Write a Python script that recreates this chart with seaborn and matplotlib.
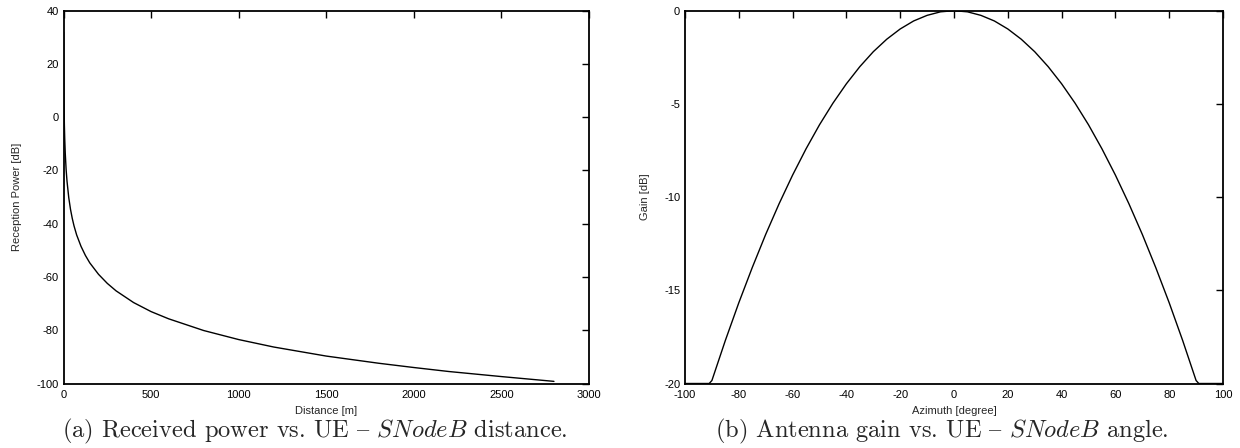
import numpy as np
import pandas as pd
import seaborn as sns
import matplotlib.pyplot as plt

# (a) received power vs distance
distance_m = [0.5, 1, 2, 3, 5, 7, 10, 15, 20, 30, 40, 50, 60, 75, 100, 125, 150,
              200, 250, 300, 400, 500, 600, 800, 1000, 1200, 1500, 1800, 2000,
              2200, 2500, 2800]
power_db = [32.0, 21.5, 11.0, 4.8, -3.0, -8.1, -13.5, -19.7, -24.0, -30.2,
            -34.6, -38.0, -40.8, -44.2, -48.5, -51.9, -54.7, -59.0, -62.4,
            -65.2, -69.6, -73.0, -75.7, -80.1, -83.5, -86.3, -89.7, -92.4,
            -94.0, -95.5, -97.4, -99.2]

# (b) antenna gain vs azimuth
azimuth_deg = [-100, -95, -91, -90, -85, -80, -75, -70, -65, -60, -55, -50, -45,
               -40, -35, -30, -25, -20, -15, -10, -5, 0, 5, 10, 15, 20, 25, 30,
               35, 40, 45, 50, 55, 60, 65, 70, 75, 80, 85, 90, 91, 95, 100]
gain_db = [-20.0, -20.0, -20.0, -19.84, -17.69, -15.67, -13.78, -12.0, -10.35,
           -8.82, -7.41, -6.12, -4.96, -3.92, -3.0, -2.2, -1.53, -0.98, -0.55,
           -0.25, -0.06, 0.0, -0.06, -0.25, -0.55, -0.98, -1.53, -2.2, -3.0,
           -3.92, -4.96, -6.12, -7.41, -8.82, -10.35, -12.0, -13.78, -15.67,
           -17.69, -19.84, -20.0, -20.0, -20.0]

# "{" is the en dash slot in the cmr10 font
captions = [r"(a) Received power vs. UE { $SNodeB$ distance.",
            r"(b) Antenna gain vs. UE { $SNodeB$ angle."]

sns.set_style("white")
plt.rcParams['font.family'] = ['Liberation Sans', 'DejaVu Sans']
plt.rcParams['mathtext.fontset'] = 'cm'
plt.rcParams['axes.unicode_minus'] = False

W, H = 1240, 448
fig = plt.figure(figsize=(W / 100, H / 100), dpi=100)

top, bottom = 10.7, 383.5
ax1 = fig.add_axes([63.5 / W, 1 - bottom / H, (589 - 63.5) / W, (bottom - top) / H])
ax2 = fig.add_axes([685 / W, 1 - bottom / H, (1223 - 685) / W, (bottom - top) / H])

df1 = pd.DataFrame({'Distance': distance_m, 'Power': power_db})
df2 = pd.DataFrame({'Azimuth': azimuth_deg, 'Gain': gain_db})

sns.lineplot(data=df1, x='Distance', y='Power', ax=ax1, color='black', lw=1.0)
sns.lineplot(data=df2, x='Azimuth', y='Gain', ax=ax2, color='black', lw=1.0)

ax1.set_xlim(0, 3000)
ax1.set_ylim(-100, 40)
ax1.set_xticks(np.arange(0, 3001, 500))
ax1.set_yticks(np.arange(-100, 41, 20))
ax1.set_xlabel('Distance [m]', fontsize=8, labelpad=4)
ax1.set_ylabel('Reception Power [dB]', fontsize=8, labelpad=10)

ax2.set_xlim(-100, 100)
ax2.set_ylim(-20, 0)
ax2.set_xticks(np.arange(-100, 101, 20))
ax2.set_yticks(np.arange(-20, 1, 5))
ax2.set_xlabel('Azimuth [degree]', fontsize=8, labelpad=4)
ax2.set_ylabel('Gain [dB]', fontsize=8, labelpad=10)

for ax in (ax1, ax2):
    for s in ax.spines.values():
        s.set_visible(True)
        s.set_linewidth(1.3)
        s.set_color('black')
    ax.tick_params(direction='in', top=True, right=True, length=5, width=1,
                   labelsize=8, colors='black')
    ax.tick_params(axis='x', pad=5)
    ax.tick_params(axis='y', pad=3.5)
    ax.grid(False)

fig.text(315 / W, 1 - 431 / H, captions[0], ha='center', va='center',
         fontsize=17.6, family=['cmr10', 'DejaVu Serif'])
fig.text(942 / W, 1 - 431 / H, captions[1], ha='center', va='center',
         fontsize=17.6, family=['cmr10', 'DejaVu Serif'])

fig.savefig('out.png', dpi=100)
